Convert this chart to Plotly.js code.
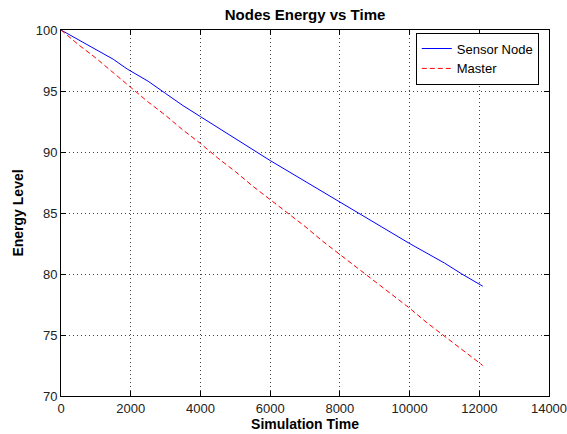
<!DOCTYPE html>
<html>
<head>
<meta charset="utf-8">
<script src="https://cdn.plot.ly/plotly-3.0.1.min.js"></script>
<style>html,body{margin:0;padding:0;background:#fff;}#chart{width:567px;height:434px;}</style>
</head>
<body>
<div id="chart"></div>
<script>
const sensorTime = [0, 500, 1000, 1500, 1900, 2500, 3000, 3500, 4000, 5000, 6000, 7000, 8000, 9000, 10000, 11000, 11500, 12100];
const sensorEnergy = [100, 99.2, 98.4, 97.6, 96.8, 95.8, 94.8, 93.8, 92.9, 91.1, 89.3, 87.6, 85.9, 84.2, 82.5, 80.9, 80.0, 79.0];

const masterTime = [0, 500, 1000, 1500, 2000, 2500, 3000, 3500, 4000, 4500, 5000, 5500, 6000, 6500, 7000, 7500, 8000, 8500, 9000, 9500, 10000, 10500, 11000, 11500, 12100];
const masterEnergy = [100, 98.8, 97.7, 96.5, 95.3, 94.1, 93.0, 91.8, 90.7, 89.5, 88.4, 87.2, 86.1, 85.0, 83.9, 82.7, 81.6, 80.5, 79.4, 78.3, 77.2, 76.0, 74.9, 73.8, 72.5];

const seriesNames = ["Sensor Node", "Master"];
const xTicks = [0, 2000, 4000, 6000, 8000, 10000, 12000, 14000];
const yTicks = [70, 75, 80, 85, 90, 95, 100];

const FONT = "Arial, 'Liberation Sans', Helvetica, sans-serif";

const traces = [
  {x: sensorTime, y: sensorEnergy, name: seriesNames[0], type: "scatter", mode: "lines",
   line: {color: "rgb(0,0,255)", width: 1}},
  {x: masterTime, y: masterEnergy, name: seriesNames[1], type: "scatter", mode: "lines",
   line: {color: "rgb(255,0,0)", width: 1, dash: "5px,3px"}}
];

const axisCommon = {
  showline: true, linecolor: "#000", linewidth: 1, mirror: "allticks",
  ticks: "inside", ticklen: 5, tickcolor: "#000", tickwidth: 1,
  showgrid: true, gridcolor: "#444", griddash: "1px,3px", gridwidth: 1,
  zeroline: false, ticklabeloverflow: "allow",
  tickfont: {family: FONT, size: 13, color: "#222"}
};

const layout = {
  width: 567, height: 434,
  paper_bgcolor: "#fff", plot_bgcolor: "#fff",
  margin: {l: 61, r: 18, t: 30, b: 38},
  showlegend: true,
  title: {text: "<b>Nodes Energy vs Time</b>", font: {family: FONT, size: 15, color: "#000"},
          x: 0.538, xanchor: "center", y: 1 - 15/434, yanchor: "middle", yref: "container"},
  xaxis: Object.assign({}, axisCommon, {
    range: [0, 14000], tickvals: xTicks, ticktext: xTicks.map(String),
    title: {text: "<b>Simulation Time</b>", font: {family: FONT, size: 14, color: "#000"}, standoff: 3}
  }),
  yaxis: Object.assign({}, axisCommon, {
    range: [70, 100], tickvals: yTicks, ticktext: yTicks.map(String),
    title: {text: "<b>Energy Level</b>", font: {family: FONT, size: 14, color: "#000"}, standoff: 8}
  }),
  legend: {x: 0.727, y: 0.993, xanchor: "left", yanchor: "top",
           bgcolor: "#fff", bordercolor: "#000", borderwidth: 1,
           font: {family: FONT, size: 13, color: "#000"}, tracegroupgap: 0}
};

Plotly.newPlot("chart", traces, layout, {displayModeBar: false, staticPlot: true});
</script>
</body>
</html>
